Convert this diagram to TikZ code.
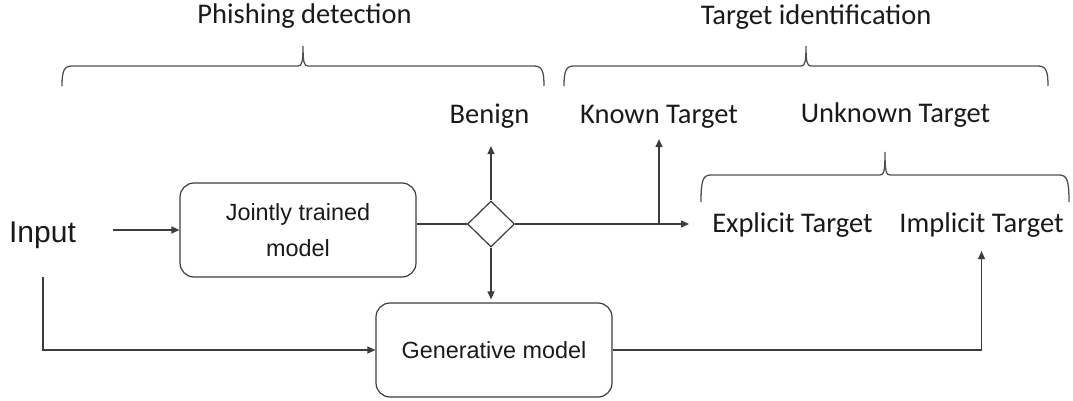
\documentclass[tikz,border=0pt]{standalone}
\usepackage{fontspec}
\setmainfont{Carlito}
\newfontfamily\arialfont{Liberation Sans}
\usetikzlibrary{arrows.meta,shapes.geometric}
\definecolor{ln}{HTML}{3C3C3C}
\definecolor{tx}{HTML}{1A1A1A}
\newcommand{\mybracepath}[6]{%
  \draw[bracestyle] (#1,#6) .. controls (#1,#4+5) and (#1+2,#4) .. (#1+10,#4)
    -- (#3-5,#4) .. controls (#3-1,#4) and (#3,#4-4) .. (#3,#5)
    .. controls (#3,#4-4) and (#3+1,#4) .. (#3+5,#4)
    -- (#2-10,#4) .. controls (#2-2,#4) and (#2,#4+5) .. (#2,#6);}
\tikzset{
  lbl/.style={font=\fontsize{28.5}{30}\selectfont, text=tx, inner sep=0pt, anchor=base},
  boxtxt/.style={font=\arialfont\fontsize{23.4}{36}\selectfont, text=tx, align=center},
  mbox/.style={draw=ln, line width=1.2pt, rounded corners=14pt, inner sep=0pt},
  arr/.style={draw=ln, line width=1.2pt, -{Triangle[length=8pt,width=7pt]}},
  plain/.style={draw=ln, line width=1.2pt},
  bracestyle/.style={draw=ln!90, line width=1.3pt},
}
\begin{document}
\begin{tikzpicture}[x=1pt,y=-1pt]
\useasboundingbox (0,0) rectangle (1073,401);

% top labels
\node[lbl] (phish) at (304.5,24) {Phishing detection};
\node[lbl] (tid) at (816,25) {Target identification};

% braces
\mybracepath{62}{544}{303}{66}{46}{86}
\mybracepath{564}{1048}{806}{66}{46}{86}
\mybracepath{701}{1069}{885}{175}{152}{202}

% outcome labels
\node[lbl] (benign) at (489.5,124) {Benign};
\node[lbl] (known) at (659,124) {Known Target};
\node[lbl] (unknown) at (895.5,123) {Unknown Target};
\node[lbl] (explicit) at (792.5,232) {Explicit Target};
\node[lbl] (implicit) at (981.5,232) {Implicit Target};

% input
\node[font=\arialfont\fontsize{30}{32}\selectfont, text=tx, inner sep=0pt, anchor=base] (input) at (42.5,242) {Input};

% boxes
\node[mbox, minimum width=236pt, minimum height=94pt, boxtxt] (joint) at (298,230) {Jointly trained\\model};
\node[mbox, minimum width=236pt, minimum height=94pt, boxtxt] (gen) at (494,350) {Generative model};
\node[draw=ln, line width=1.2pt, diamond, minimum width=47pt, minimum height=46pt, inner sep=0pt] (dia) at (491,224) {};

% connectors
\coordinate (ia) at (113,230);
\draw[arr] (ia) -- (joint.west);
\draw[plain] (joint.east |- dia) -- (dia.west);
\draw[arr, shorten >=17pt] (dia.north) -- (dia.north |- benign.south);
\draw[arr, shorten >=3pt] (dia.south) -- (dia.south |- gen.north);
\draw[arr, shorten >=23pt] (dia.east) -- (dia.east -| explicit.west);
\coordinate (kb) at (dia.east -| known);
\draw[arr, shorten >=10pt] (kb) -- (known.south);
\coordinate (is) at (43,277);
\draw[arr] (is) |- (gen.west);
\draw[arr, shorten >=14pt] (gen.east) -| (implicit.south);
\end{tikzpicture}
\end{document}
